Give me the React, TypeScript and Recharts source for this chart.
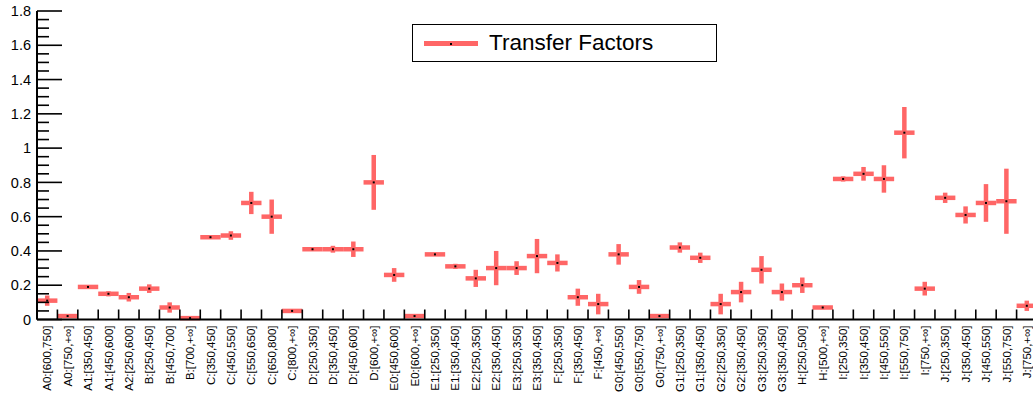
import React from 'react';
import { ScatterChart, Scatter, XAxis, YAxis, ErrorBar, Legend } from 'recharts';

// control-region bins
const bins = [
  'A0:[600,750]', 'A0:[750,+∞]', 'A1:[350,450]', 'A1:[450,600]', 'A2:[250,600]',
  'B:[250,450]', 'B:[450,700]', 'B:[700,+∞]',
  'C:[350,450]', 'C:[450,550]', 'C:[550,650]', 'C:[650,800]', 'C:[800,+∞]',
  'D:[250,350]', 'D:[350,450]', 'D:[450,600]', 'D:[600,+∞]',
  'E0:[450,600]', 'E0:[600,+∞]', 'E1:[250,350]', 'E1:[350,450]',
  'E2:[250,350]', 'E2:[350,450]', 'E3:[250,350]', 'E3:[350,450]',
  'F:[250,350]', 'F:[350,450]', 'F:[450,+∞]',
  'G0:[450,550]', 'G0:[550,750]', 'G0:[750,+∞]', 'G1:[250,350]', 'G1:[350,450]',
  'G2:[250,350]', 'G2:[350,450]', 'G3:[250,350]', 'G3:[350,450]',
  'H:[250,500]', 'H:[500,+∞]',
  'I:[250,350]', 'I:[350,450]', 'I:[450,550]', 'I:[550,750]', 'I:[750,+∞]',
  'J:[250,350]', 'J:[350,450]', 'J:[450,550]', 'J:[550,750]', 'J:[750,+∞]',
];

const factors = [
  0.11, 0.02, 0.19, 0.15, 0.13, 0.18, 0.07, 0.008,
  0.48, 0.49, 0.68, 0.6, 0.05, 0.41, 0.41, 0.41, 0.8,
  0.26, 0.02, 0.38, 0.31, 0.24, 0.3, 0.3, 0.37,
  0.33, 0.13, 0.09, 0.38, 0.19, 0.02, 0.42, 0.36,
  0.09, 0.16, 0.29, 0.16, 0.2, 0.07,
  0.82, 0.85, 0.82, 1.09, 0.18, 0.71, 0.61, 0.68, 0.69, 0.08,
];

const errors = [
  0.03, 0.005, 0.005, 0.015, 0.025, 0.025, 0.03, 0.005,
  0.005, 0.025, 0.065, 0.1, 0.005, 0.005, 0.02, 0.045, 0.16,
  0.04, 0.005, 0.005, 0.015, 0.05, 0.1, 0.04, 0.1,
  0.05, 0.05, 0.06, 0.06, 0.04, 0.005, 0.03, 0.03,
  0.06, 0.06, 0.08, 0.05, 0.045, 0.01,
  0.015, 0.04, 0.08, 0.15, 0.04, 0.03, 0.05, 0.11, 0.19, 0.03,
];

const yLabels = [0, 0.2, 0.4, 0.6, 0.8, 1, 1.2, 1.4, 1.6, 1.8];

const RED = '#ff6666';
const FONT = '"Liberation Sans", Arial, Helvetica, sans-serif';

const data = bins.map((name, i) => ({ name, x: i + 0.5, y: factors[i], ex: 0.5, ey: errors[i] }));

// bin edges (integers) and bin centres (half-integers) share one axis
const xTicks = [...bins.flatMap((_, i) => [i, i + 0.5]), bins.length];
// major ticks every 0.2, minor every 0.05
const yTicks = Array.from({ length: 37 }, (_, i) => Math.round(i * 5) / 100);
const isMajor = (v: number) => yLabels.some((l) => Math.abs(l - v) < 1e-6);

const LeftTick = (p: any) => {
  const v = p.payload.value;
  const major = isMajor(v);
  return (
    <g>
      <line x1={p.x} x2={p.x + (major ? 25 : 12)} y1={p.y} y2={p.y} stroke="#000" strokeWidth={1.6} />
      {major && (
        <text x={p.x - 6} y={p.y} dy="0.36em" textAnchor="end" fontSize={14.5} fontFamily={FONT} fill="#000">
          {v}
        </text>
      )}
    </g>
  );
};

const RightTick = (p: any) => {
  const major = isMajor(p.payload.value);
  return <line x1={p.x} x2={p.x - (major ? 25 : 12)} y1={p.y} y2={p.y} stroke="#000" strokeWidth={1.6} />;
};

const BottomTick = (p: any) => {
  const v = p.payload.value;
  if (Number.isInteger(v)) {
    return <line x1={p.x} x2={p.x} y1={p.y} y2={p.y - 10} stroke="#000" strokeWidth={1.6} />;
  }
  const label = bins[Math.floor(v)];
  return (
    <text
      x={p.x}
      y={p.y + 6}
      dy="0.36em"
      transform={`rotate(-90, ${p.x}, ${p.y + 6})`}
      textAnchor="end"
      fontSize={11.5}
      fontFamily={FONT}
      fill="#000"
    >
      {label}
    </text>
  );
};

const TopTick = (p: any) => (
  <line x1={p.x} x2={p.x} y1={p.y} y2={p.y + 10} stroke="#000" strokeWidth={1.6} />
);

const Dot = (p: any) => <rect x={p.cx - 1} y={p.cy - 1} width={2} height={2} fill="#000" />;

const LegendBox = (props: any) => {
  const item = props.payload && props.payload[0];
  return (
    <div
      style={{
        width: 303,
        height: 36,
        border: '1.5px solid #000',
        background: '#fff',
        position: 'relative',
        fontFamily: FONT,
      }}
    >
      <div style={{ position: 'absolute', left: 11, top: 16, width: 54, height: 5, background: RED }} />
      <div style={{ position: 'absolute', left: 37, top: 17.5, width: 2, height: 2, background: '#000' }} />
      <div style={{ position: 'absolute', left: 76, top: 3, fontSize: 22.5, lineHeight: '30px', color: '#000' }}>
        {item ? item.value : 'Transfer Factors'}
      </div>
    </div>
  );
};

export default function App() {
  return (
    <div style={{ position: 'fixed', left: 0, top: 0, width: 1033, height: 406, overflow: 'hidden', background: '#fff' }}>
      <ScatterChart width={1040} height={406} margin={{ top: 11, right: 3, bottom: 0, left: 0 }}>
        <XAxis
          xAxisId="main"
          type="number"
          dataKey="x"
          domain={[0, bins.length]}
          ticks={xTicks}
          interval={0}
          height={86.5}
          tickSize={0}
          tickMargin={0}
          tickLine={false}
          axisLine={{ stroke: '#000', strokeWidth: 2 }}
          tick={BottomTick}
        />
        <XAxis
          xAxisId="top"
          orientation="top"
          type="number"
          domain={[0, bins.length]}
          ticks={xTicks.filter((t) => Number.isInteger(t))}
          interval={0}
          height={0}
          tickSize={0}
          tickMargin={0}
          tickLine={false}
          axisLine={{ stroke: '#000', strokeWidth: 2 }}
          tick={TopTick}
        />
        <YAxis
          yAxisId="main"
          type="number"
          dataKey="y"
          domain={[0, 1.8]}
          ticks={yTicks}
          interval={0}
          width={37}
          tickSize={0}
          tickMargin={0}
          tickLine={false}
          axisLine={{ stroke: '#000', strokeWidth: 2 }}
          tick={LeftTick}
        />
        <YAxis
          yAxisId="right"
          orientation="right"
          type="number"
          domain={[0, 1.8]}
          ticks={yTicks}
          interval={0}
          width={0}
          tickSize={0}
          tickMargin={0}
          tickLine={false}
          axisLine={{ stroke: '#000', strokeWidth: 2 }}
          tick={RightTick}
        />
        <Legend
          verticalAlign="middle"
          align="center"
          content={<LegendBox />}
          wrapperStyle={{ position: 'absolute', left: 412, top: 24, width: 306, height: 39 }}
        />
        <Scatter
          name="Transfer Factors"
          data={data}
          xAxisId="main"
          yAxisId="main"
          fill={RED}
          shape={Dot}
          isAnimationActive={false}
        >
          <ErrorBar dataKey="ex" direction="x" width={0} stroke={RED} strokeWidth={4.5} isAnimationActive={false} />
          <ErrorBar dataKey="ey" direction="y" width={0} stroke={RED} strokeWidth={4.5} isAnimationActive={false} />
        </Scatter>
      </ScatterChart>
    </div>
  );
}
